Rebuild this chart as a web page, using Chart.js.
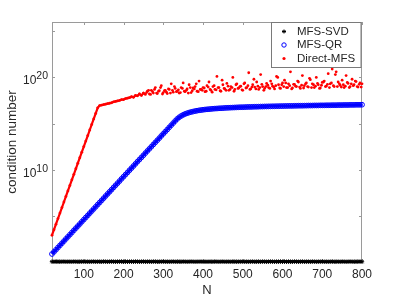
<!DOCTYPE html>
<html>
<head>
<meta charset="utf-8">
<script src="https://cdn.jsdelivr.net/npm/chart.js@4/dist/chart.umd.min.js"></script>
<style>
  html, body { margin: 0; padding: 0; background: #fff; }
  canvas { display: block; }
</style>
</head>
<body>
<canvas id="condChart" width="399" height="299"></canvas>
<script>
// N values (matrix size) shared by all three series
const nValues = [
  20, 25, 30, 35, 40, 45, 50, 55, 60, 65,
  70, 75, 80, 85, 90, 95, 100, 105, 110, 115,
  120, 125, 130, 135, 140, 145, 150, 155, 160, 165,
  170, 175, 180, 185, 190, 195, 200, 205, 210, 215,
  220, 225, 230, 235, 240, 245, 250, 255, 260, 265,
  270, 275, 280, 285, 290, 295, 300, 305, 310, 315,
  320, 325, 330, 335, 340, 345, 350, 355, 360, 365,
  370, 375, 380, 385, 390, 395, 400, 405, 410, 415,
  420, 425, 430, 435, 440, 445, 450, 455, 460, 465,
  470, 475, 480, 485, 490, 495, 500, 505, 510, 515,
  520, 525, 530, 535, 540, 545, 550, 555, 560, 565,
  570, 575, 580, 585, 590, 595, 600, 605, 610, 615,
  620, 625, 630, 635, 640, 645, 650, 655, 660, 665,
  670, 675, 680, 685, 690, 695, 700, 705, 710, 715,
  720, 725, 730, 735, 740, 745, 750, 755, 760, 765,
  770, 775, 780, 785, 790, 795, 800
];

// condition numbers, stored as log10
const svdLog = [
  0.04, 0.03, 0.05, 0.04, 0.03, 0.04, 0.05, 0.03, 0.04, 0.04,
  0.03, 0.05, 0.04, 0.03, 0.04, 0.04, 0.05, 0.03, 0.04, 0.03,
  0.04, 0.05, 0.03, 0.04, 0.04, 0.03, 0.05, 0.04, 0.03, 0.04,
  0.05, 0.04, 0.03, 0.04, 0.04, 0.05, 0.03, 0.04, 0.03, 0.04,
  0.04, 0.03, 0.05, 0.04, 0.03, 0.04, 0.05, 0.03, 0.04, 0.04,
  0.03, 0.05, 0.04, 0.03, 0.04, 0.04, 0.05, 0.03, 0.04, 0.03,
  0.04, 0.05, 0.03, 0.04, 0.04, 0.03, 0.05, 0.04, 0.03, 0.04,
  0.05, 0.04, 0.03, 0.04, 0.04, 0.05, 0.03, 0.04, 0.03, 0.04,
  0.04, 0.03, 0.05, 0.04, 0.03, 0.04, 0.05, 0.03, 0.04, 0.04,
  0.03, 0.05, 0.04, 0.03, 0.04, 0.04, 0.05, 0.03, 0.04, 0.03,
  0.04, 0.05, 0.03, 0.04, 0.04, 0.03, 0.05, 0.04, 0.03, 0.04,
  0.05, 0.04, 0.03, 0.04, 0.04, 0.05, 0.03, 0.04, 0.03, 0.04,
  0.04, 0.03, 0.05, 0.04, 0.03, 0.04, 0.05, 0.03, 0.04, 0.04,
  0.03, 0.05, 0.04, 0.03, 0.04, 0.04, 0.05, 0.03, 0.04, 0.03,
  0.04, 0.05, 0.03, 0.04, 0.04, 0.03, 0.05, 0.04, 0.03, 0.04,
  0.05, 0.04, 0.03, 0.04, 0.04, 0.05, 0.03
];

const qrLog = [
  0.87, 1.10, 1.33, 1.57, 1.80, 2.03, 2.26, 2.50, 2.73, 2.96,
  3.19, 3.43, 3.66, 3.89, 4.12, 4.36, 4.59, 4.82, 5.05, 5.29,
  5.52, 5.75, 5.98, 6.22, 6.45, 6.68, 6.91, 7.15, 7.38, 7.61,
  7.84, 8.08, 8.31, 8.54, 8.77, 9.01, 9.24, 9.47, 9.70, 9.94,
  10.17, 10.40, 10.63, 10.87, 11.10, 11.33, 11.56, 11.80, 12.03, 12.26,
  12.49, 12.73, 12.96, 13.19, 13.42, 13.66, 13.89, 14.12, 14.35, 14.59,
  14.82, 15.05, 15.28, 15.50, 15.68, 15.82, 15.94, 16.04, 16.12, 16.19,
  16.25, 16.30, 16.35, 16.39, 16.43, 16.46, 16.49, 16.52, 16.54, 16.56,
  16.58, 16.60, 16.62, 16.63, 16.65, 16.66, 16.67, 16.69, 16.70, 16.71,
  16.72, 16.73, 16.74, 16.75, 16.76, 16.77, 16.77, 16.78, 16.79, 16.80,
  16.80, 16.81, 16.82, 16.82, 16.83, 16.84, 16.84, 16.85, 16.85, 16.86,
  16.86, 16.87, 16.87, 16.88, 16.88, 16.89, 16.89, 16.90, 16.90, 16.91,
  16.91, 16.91, 16.92, 16.92, 16.93, 16.93, 16.93, 16.94, 16.94, 16.95,
  16.95, 16.95, 16.96, 16.96, 16.96, 16.97, 16.97, 16.97, 16.98, 16.98,
  16.98, 16.99, 16.99, 16.99, 17.00, 17.00, 17.00, 17.01, 17.01, 17.01,
  17.02, 17.02, 17.02, 17.03, 17.03, 17.03, 17.04
];

const directLog = [
  2.9, 3.5, 4.1, 4.7, 5.3, 5.9, 6.5, 7.1, 7.7, 8.3,
  8.9, 9.5, 10.1, 10.7, 11.3, 11.9, 12.5, 13.1, 13.7, 14.3,
  14.9, 15.5, 16.1, 16.7, 16.95, 17.0, 17.05, 17.1, 17.15, 17.2,
  17.25, 17.35, 17.4, 17.45, 17.5, 17.6, 17.6, 17.7, 17.75, 17.8,
  17.9, 17.85, 18.05, 18.0, 18.2, 18.05, 18.3, 18.15, 18.5, 18.2,
  18.6, 18.3, 18.9, 18.25, 18.55, 19.1, 18.35, 18.6, 18.25, 18.7,
  19.3, 18.4, 18.8, 18.5, 18.3, 18.9, 19.4, 18.45, 18.75, 19.2,
  18.35, 18.85, 19.0, 18.5, 19.6, 18.7, 18.9, 18.45, 19.1, 19.5,
  18.6, 19.0, 18.7, 20.1, 18.9, 18.5, 19.2, 18.75, 19.35, 18.6,
  19.0, 20.0, 18.7, 19.3, 18.85, 19.05, 18.6, 19.4, 18.9, 20.5,
  18.75, 19.2, 18.95, 19.5, 18.7, 20.3, 19.0, 18.8, 19.35, 18.9,
  19.6, 19.05, 18.75, 20.1, 19.2, 18.8, 19.4, 19.7, 18.9, 19.3,
  20.6, 18.85, 19.25, 19.0, 19.5, 18.8, 20.2, 19.1, 19.4, 18.95,
  19.75, 19.3, 18.9, 20.0, 19.2, 18.85, 19.45, 19.6, 19.05, 20.4,
  19.3, 20.9, 19.0, 20.6, 19.5, 19.15, 19.7, 18.9, 20.2, 19.35,
  19.0, 19.8, 19.2, 19.55, 18.95, 19.4, 19.3
];

// extra Direct-MFS points in the noisy range, N between the grid above
const directExtraN = [
  258, 263, 268, 273, 278, 283, 288, 293, 298, 303,
  308, 313, 318, 323, 328, 333, 338, 343, 348, 353,
  358, 363, 368, 373, 378, 383, 388, 393, 398, 403,
  408, 413, 418, 423, 428, 433, 438, 443, 448, 453,
  458, 463, 468, 473, 478, 483, 488, 493, 498, 503,
  508, 513, 518, 523, 528, 533, 538, 543, 548, 553,
  558, 563, 568, 573, 578, 583, 588, 593, 598, 603,
  608, 613, 618, 623, 628, 633, 638, 643, 648, 653,
  658, 663, 668, 673, 678, 683, 688, 693, 698, 703,
  708, 713, 718, 723, 728, 733, 738, 743, 748, 753,
  758, 763, 768, 773, 778, 783, 788, 793, 798
];
const directExtraLog = [
  18.35, 18.6, 18.15, 18.45, 18.7, 18.3, 18.5, 18.9, 18.2, 18.55,
  18.4, 18.75, 18.3, 18.6, 19.0, 18.45, 18.65, 18.35, 18.8, 18.5,
  18.6, 18.3, 18.9, 18.55, 18.75, 19.3, 18.45, 18.7, 18.6, 18.85,
  18.5, 18.95, 18.7, 18.4, 19.1, 18.65, 18.9, 18.55, 19.7, 18.8,
  18.6, 19.05, 18.7, 18.9, 18.5, 19.2, 18.8, 19.0, 18.65, 19.3,
  18.85, 19.1, 18.7, 18.95, 19.8, 18.75, 19.05, 18.9, 19.25, 18.6,
  19.0, 19.15, 18.8, 19.3, 18.95, 19.1, 20.0, 18.85, 19.2, 19.0,
  19.4, 18.9, 19.1, 18.75, 19.25, 19.05, 19.6, 18.95, 19.15, 18.85,
  19.3, 19.0, 19.9, 18.9, 19.2, 19.05, 19.35, 18.8, 19.15, 19.5,
  19.0, 19.25, 18.9, 19.4, 19.1, 20.3, 19.0, 19.3, 18.95, 19.2,
  19.05, 19.45, 18.9, 19.3, 19.1, 19.6, 19.0, 19.25, 18.95
];

const seriesNames = ['MFS-SVD', 'MFS-QR', 'Direct-MFS'];
const xTicks = [100, 200, 300, 400, 500, 600, 700, 800];
const yTickExp = [0, 5, 10, 15, 20, 25];
const yLabelExp = [10, 20];
const smoothRedEnd = 255; // red markers merge into a solid trace below this N

const textColor = '#262626';
const toPoints = (ns, logs) => ns.map((n, i) => ({ x: n, y: Math.pow(10, logs[i]) }));

// axes box, inward ticks, labels and the legend, MATLAB style
const matlabAxes = {
    id: 'matlabAxes',
    beforeDatasetsDraw(chart) {
        const { ctx, chartArea: a, scales: { x, y } } = chart;
        ctx.save();
        ctx.strokeStyle = '#9a9a9a';
        ctx.lineWidth = 1;
        ctx.strokeRect(a.left + 0.5, a.top + 0.5, a.right - a.left - 1, a.bottom - a.top - 1);
        ctx.beginPath();
        xTicks.forEach(v => {
            const px = Math.round(x.getPixelForValue(v)) + 0.5;
            ctx.moveTo(px, a.bottom); ctx.lineTo(px, a.bottom - 3);
            ctx.moveTo(px, a.top); ctx.lineTo(px, a.top + 3);
        });
        yTickExp.forEach(e => {
            const py = Math.round(y.getPixelForValue(Math.pow(10, e))) + 0.5;
            ctx.moveTo(a.left, py); ctx.lineTo(a.left + 3, py);
            ctx.moveTo(a.right, py); ctx.lineTo(a.right - 3, py);
        });
        ctx.stroke();
        ctx.restore();
    },
    afterDraw(chart) {
        const { ctx, chartArea: a, scales: { x, y } } = chart;
        ctx.save();
        ctx.fillStyle = textColor;

        // x tick labels
        ctx.font = '12px "Liberation Sans", Arial, sans-serif';
        ctx.textAlign = 'center';
        ctx.textBaseline = 'middle';
        xTicks.forEach(v => ctx.fillText(String(v), x.getPixelForValue(v), 275));

        // y tick labels 10^k
        yLabelExp.forEach(e => {
            const py = y.getPixelForValue(Math.pow(10, e));
            const sup = String(e);
            ctx.font = '10.5px "Liberation Sans", Arial, sans-serif';
            const supW = ctx.measureText(sup).width;
            const right = a.left - 4;
            ctx.textAlign = 'left';
            ctx.fillText(sup, right - supW, py - 1);
            ctx.font = '12px "Liberation Sans", Arial, sans-serif';
            ctx.textAlign = 'right';
            ctx.fillText('10', right - supW, py + 3.5);
        });

        // axis titles
        ctx.font = '13px "Liberation Sans", Arial, sans-serif';
        ctx.textAlign = 'center';
        ctx.fillText('N', (a.left + a.right) / 2, 290);
        ctx.save();
        ctx.translate(12, (a.top + a.bottom) / 2);
        ctx.rotate(-Math.PI / 2);
        ctx.font = '13.5px "Liberation Sans", Arial, sans-serif';
        ctx.fillText('condition number', 0, 0);
        ctx.restore();

        // legend box in the top right corner
        const bx = 271.5, by = a.top + 0.5, bw = a.right - 1 - 271.5, bh = 45;
        ctx.fillStyle = '#fff';
        ctx.fillRect(bx, by, bw, bh);
        ctx.strokeStyle = '#7a7a7a';
        ctx.lineWidth = 1;
        ctx.strokeRect(bx, by, bw, bh);
        const rows = [31.5, 45, 58.5];
        const mx = 284;
        // asterisk
        ctx.strokeStyle = '#000';
        ctx.beginPath();
        for (let k = 0; k < 4; k++) {
            const ang = k * Math.PI / 4;
            ctx.moveTo(mx - 2 * Math.cos(ang), rows[0] - 2 * Math.sin(ang));
            ctx.lineTo(mx + 2 * Math.cos(ang), rows[0] + 2 * Math.sin(ang));
        }
        ctx.stroke();
        // open circle
        ctx.strokeStyle = '#0000ff';
        ctx.beginPath();
        ctx.arc(mx, rows[1], 2.2, 0, Math.PI * 2);
        ctx.stroke();
        // red dot
        ctx.fillStyle = '#ff0000';
        ctx.beginPath();
        ctx.arc(mx, rows[2], 1.6, 0, Math.PI * 2);
        ctx.fill();

        ctx.fillStyle = textColor;
        ctx.font = '11.5px "Liberation Sans", Arial, sans-serif';
        ctx.textAlign = 'left';
        seriesNames.forEach((name, i) => ctx.fillText(name, 297, rows[i]));
        ctx.restore();
    }
};

const ctx = document.getElementById('condChart').getContext('2d');
new Chart(ctx, {
    type: 'scatter',
    data: {
        datasets: [{
            label: seriesNames[0],
            data: toPoints(nValues, svdLog),
            showLine: true,
            borderWidth: 2.5,
            pointStyle: 'star',
            pointRadius: 2.2,
            borderColor: '#000',
            backgroundColor: '#000',
            pointBorderWidth: 1,
            order: 4,
            clip: false
        }, {
            label: seriesNames[1],
            data: toPoints(nValues, qrLog),
            showLine: true,
            borderWidth: 3,
            pointStyle: 'circle',
            pointRadius: 2.4,
            borderColor: '#0000ff',
            backgroundColor: 'rgba(0,0,0,0)',
            pointBorderWidth: 1,
            order: 3,
            clip: false
        }, {
            label: seriesNames[2],
            data: toPoints(nValues, directLog),
            showLine: true,
            borderWidth: 2.2,
            segment: {
                borderColor: c => c.p0.parsed.x >= smoothRedEnd ? 'rgba(0,0,0,0)' : '#ff0000'
            },
            pointStyle: 'circle',
            pointRadius: 1.4,
            borderColor: '#ff0000',
            backgroundColor: '#ff0000',
            pointBorderWidth: 0,
            order: 1,
            clip: false
        }, {
            label: seriesNames[2] + ' (extra)',
            data: toPoints(directExtraN, directExtraLog),
            pointStyle: 'circle',
            pointRadius: 1.4,
            borderColor: '#ff0000',
            backgroundColor: '#ff0000',
            pointBorderWidth: 0,
            order: 2,
            clip: false
        }]
    },
    options: {
        responsive: false,
        animation: false,
        events: [],
        layout: { padding: { left: 0, top: 22, right: 37, bottom: 0 } },
        plugins: {
            legend: { display: false },
            tooltip: { enabled: false }
        },
        scales: {
            x: {
                type: 'linear',
                min: 20,
                max: 800,
                grid: { display: false },
                border: { display: false },
                ticks: { display: false },
                afterFit: scale => { scale.width = scale.width; scale.height = 37; }
            },
            y: {
                type: 'logarithmic',
                min: 1,
                max: 1e26,
                grid: { display: false },
                border: { display: false },
                ticks: { display: false },
                afterFit: scale => { scale.width = 52; }
            }
        }
    },
    plugins: [matlabAxes]
});
</script>
</body>
</html>
